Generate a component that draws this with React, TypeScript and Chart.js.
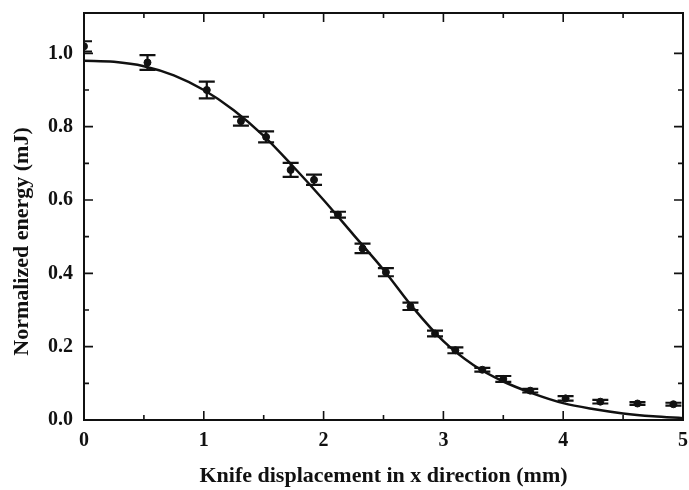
import React, { useEffect, useRef } from "react";
import { Chart, registerables } from "chart.js";

Chart.register(...registerables);

// Measured data points (knife-edge scan)
const pointX = [0, 0.53, 1.025, 1.31, 1.52, 1.725, 1.92, 2.12, 2.325, 2.52, 2.725, 2.93, 3.1, 3.325, 3.5, 3.725, 4.02, 4.31, 4.62, 4.92];
const pointY = [1.019, 0.975, 0.9, 0.815, 0.772, 0.682, 0.655, 0.56, 0.468, 0.403, 0.31, 0.236, 0.19, 0.137, 0.112, 0.08, 0.059, 0.05, 0.045, 0.043];
const pointErr = [0.014, 0.02, 0.023, 0.012, 0.015, 0.019, 0.014, 0.008, 0.013, 0.011, 0.01, 0.008, 0.008, 0.005, 0.008, 0.005, 0.006, 0.005, 0.004, 0.004];

// Fitted curve
const curveX = [0, 0.25, 0.5, 0.75, 1.0, 1.25, 1.5, 1.75, 2.0, 2.25, 2.5, 2.75, 3.0, 3.25, 3.5, 3.75, 4.0, 4.25, 4.5, 4.75, 5.0];
const curveY = [0.98, 0.977, 0.965, 0.94, 0.9, 0.845, 0.775, 0.69, 0.6, 0.505, 0.41, 0.305, 0.215, 0.15, 0.105, 0.072, 0.046, 0.03, 0.018, 0.01, 0.005];

// Ticks
const xMajor = [0, 1, 2, 3, 4, 5];
const xMinor = [0.5, 1.5, 2.5, 3.5, 4.5];
const yMajor = [0, 0.2, 0.4, 0.6, 0.8, 1.0];
const yMinor = [0.1, 0.3, 0.5, 0.7, 0.9];

const xTitle = "Knife displacement in x direction (mm)";
const yTitle = "Normalized energy (mJ)";

const FONT = "'Liberation Serif', 'Times New Roman', serif";

export default function App() {
  const ref = useRef<HTMLCanvasElement | null>(null);

  useEffect(() => {
    document.body.style.margin = "0";
    const canvas = ref.current;
    if (!canvas) return;

    const framePlugin = {
      id: "frameAndErrors",
      afterDatasetsDraw(chart: any) {
        const ctx = chart.ctx;
        const xs = chart.scales.x;
        const ys = chart.scales.y;
        const area = chart.chartArea;
        // error bars
        ctx.save();
        ctx.beginPath();
        ctx.rect(area.left, area.top, area.right - area.left, area.bottom - area.top);
        ctx.clip();
        ctx.strokeStyle = "#111";
        ctx.lineWidth = 2.2;
        const cap = 8;
        for (let i = 0; i < pointX.length; i++) {
          const px = xs.getPixelForValue(pointX[i]);
          const top = ys.getPixelForValue(pointY[i] + pointErr[i]);
          const bot = ys.getPixelForValue(pointY[i] - pointErr[i]);
          ctx.beginPath();
          ctx.moveTo(px, top);
          ctx.lineTo(px, bot);
          ctx.moveTo(px - cap, top);
          ctx.lineTo(px + cap, top);
          ctx.moveTo(px - cap, bot);
          ctx.lineTo(px + cap, bot);
          ctx.stroke();
        }
        ctx.restore();

        // frame
        ctx.save();
        ctx.strokeStyle = "#111";
        ctx.lineWidth = 2;
        ctx.strokeRect(area.left, area.top, area.right - area.left, area.bottom - area.top);
        // inward ticks
        ctx.lineWidth = 1.6;
        const major = 9;
        const minor = 5;
        const drawX = (v: number, len: number) => {
          const p = xs.getPixelForValue(v);
          ctx.beginPath();
          ctx.moveTo(p, area.bottom);
          ctx.lineTo(p, area.bottom - len);
          ctx.moveTo(p, area.top);
          ctx.lineTo(p, area.top + len);
          ctx.stroke();
        };
        const drawY = (v: number, len: number) => {
          const p = ys.getPixelForValue(v);
          ctx.beginPath();
          ctx.moveTo(area.left, p);
          ctx.lineTo(area.left + len, p);
          ctx.moveTo(area.right, p);
          ctx.lineTo(area.right - len, p);
          ctx.stroke();
        };
        xMajor.forEach((v) => drawX(v, major));
        xMinor.forEach((v) => drawX(v, minor));
        yMajor.forEach((v) => drawY(v, major));
        yMinor.forEach((v) => drawY(v, minor));

        // y title
        ctx.fillStyle = "#111";
        ctx.font = `bold 22px ${FONT}`;
        ctx.textAlign = "center";
        ctx.textBaseline = "middle";
        ctx.translate(22, (area.top + area.bottom) / 2 + 25);
        ctx.rotate(-Math.PI / 2);
        ctx.fillText(yTitle, 0, 0);
        ctx.restore();
      },
    };

    const chart = new Chart(canvas, {
      type: "scatter",
      data: {
        datasets: [
          {
            type: "line",
            label: "fit",
            data: curveX.map((x, i) => ({ x, y: curveY[i] })),
            borderColor: "#111",
            borderWidth: 2.5,
            pointRadius: 0,
            tension: 0.4,
            cubicInterpolationMode: "monotone",
            fill: false,
          } as any,
          {
            label: "data",
            data: pointX.map((x, i) => ({ x, y: pointY[i] })),
            backgroundColor: "#111",
            borderColor: "#111",
            pointRadius: 3.5,
            pointStyle: "circle",
          },
        ],
      },
      options: {
        animation: false,
        responsive: false,
        maintainAspectRatio: false,
        layout: { padding: { top: 13, right: 6, left: 0, bottom: 0 } },
        plugins: { legend: { display: false }, tooltip: { enabled: false } },
        scales: {
          x: {
            type: "linear",
            min: 0,
            max: 5,
            grid: { display: false, drawTicks: false },
            border: { display: false },
            afterBuildTicks: (s: any) => {
              s.ticks = xMajor.map((v) => ({ value: v }));
            },
            afterFit: (s: any) => {
              s.height = 70;
              s.paddingLeft = 0;
              s.paddingRight = 0;
            },
            ticks: {
              padding: 9,
              color: "#111",
              font: { family: FONT, size: 20, weight: "bold" },
              callback: (v: any) => String(v),
            },
            title: {
              display: true,
              text: xTitle,
              color: "#111",
              font: { family: FONT, size: 22, weight: "bold" },
              padding: { top: 0, bottom: 0 },
            },
          },
          y: {
            type: "linear",
            min: 0,
            max: 1.11,
            grid: { display: false, drawTicks: false },
            border: { display: false },
            afterBuildTicks: (s: any) => {
              s.ticks = yMajor.map((v) => ({ value: v }));
            },
            afterFit: (s: any) => {
              s.width = 84;
              s.paddingTop = 0;
              s.paddingBottom = 0;
            },
            ticks: {
              padding: 11,
              color: "#111",
              font: { family: FONT, size: 20, weight: "bold" },
              callback: (v: any) => Number(v).toFixed(1),
            },
          },
        },
      },
      plugins: [framePlugin],
    });

    return () => chart.destroy();
  }, []);

  return <canvas ref={ref} width={689} height={490} style={{ display: "block" }} />;
}
